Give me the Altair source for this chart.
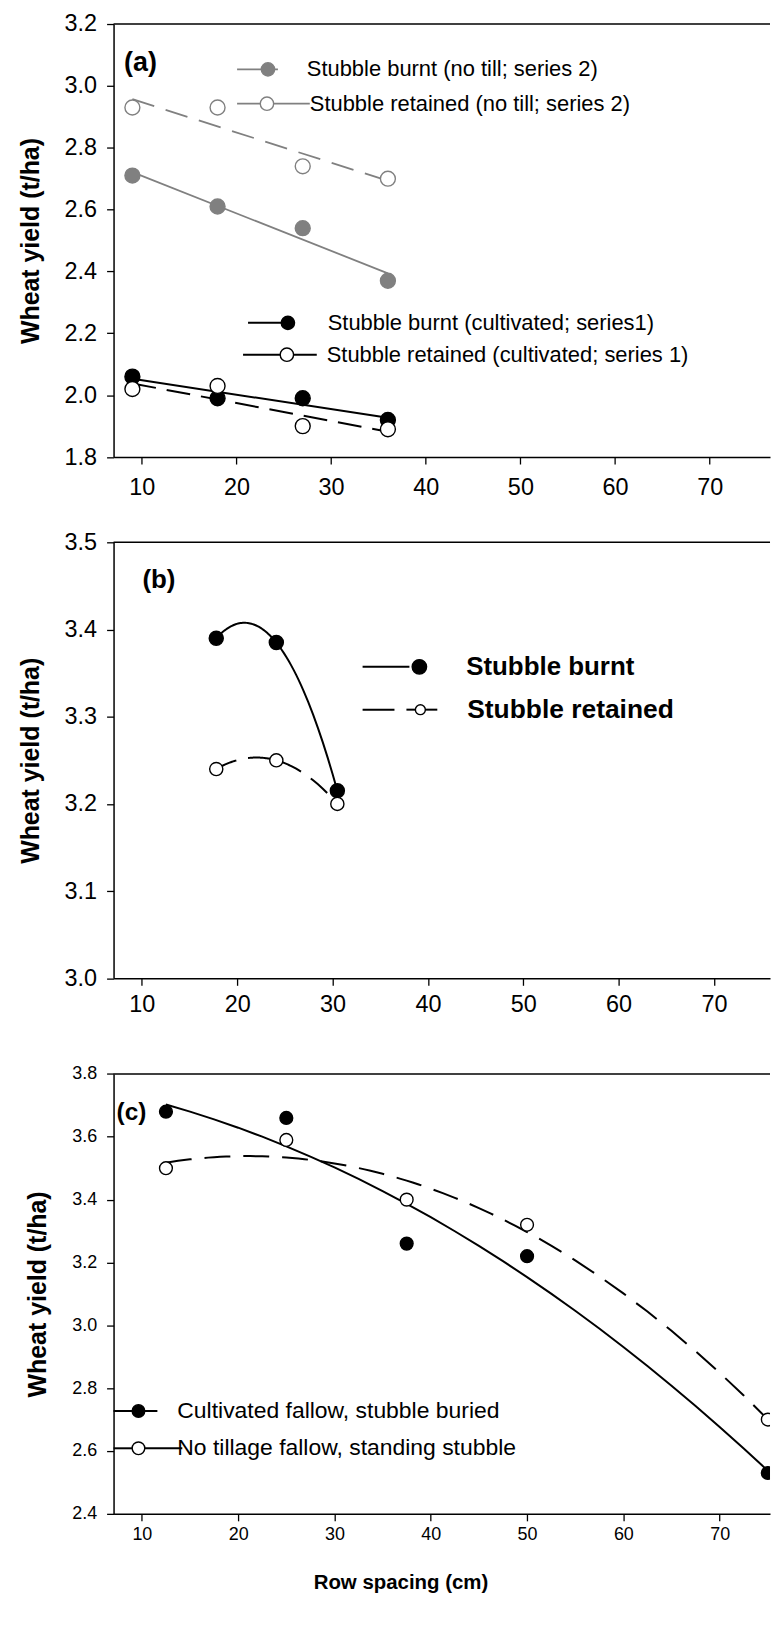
import altair as alt
import pandas as pd

FONT = "Liberation Sans"

# ---------------- data ----------------
x_ticks = [10, 20, 30, 40, 50, 60, 70]
y_title = "Wheat yield (t/ha)"
x_title = "Row spacing (cm)"
panel_tags = ["(a)", "(b)", "(c)"]

# panel (a)
a_spacing = [9, 18, 27, 36]
a_burnt_notill = [2.71, 2.61, 2.54, 2.37]
a_retained_notill = [2.93, 2.93, 2.74, 2.70]
a_burnt_cult = [2.06, 1.99, 1.99, 1.92]
a_retained_cult = [2.02, 2.03, 1.90, 1.89]
a_names = ["Stubble burnt (no till; series 2)",
           "Stubble retained (no till; series 2)",
           "Stubble burnt (cultivated; series1)",
           "Stubble retained (cultivated; series 1)"]
a_yticks = [1.8, 2.0, 2.2, 2.4, 2.6, 2.8, 3.0, 3.2]

# panel (b)
b_spacing = [17.8, 24.1, 30.5]
b_burnt = [3.39, 3.385, 3.215]
b_retained = [3.24, 3.25, 3.20]
b_names = ["Stubble burnt", "Stubble retained"]
b_yticks = [3.0, 3.1, 3.2, 3.3, 3.4, 3.5]

# panel (c)
c_spacing = [12.5, 25, 37.5, 50, 75]
c_cultivated = [3.68, 3.66, 3.26, 3.22, 2.53]
c_notill = [3.50, 3.59, 3.40, 3.32, 2.70]
c_names = ["Cultivated fallow, stubble buried",
           "No tillage fallow, standing stubble"]
c_yticks = [2.4, 2.6, 2.8, 3.0, 3.2, 3.4, 3.6, 3.8]

# ---------------- styling ----------------
W = 659
GRAY = "#808080"
BLACK = "#000000"
ONE = pd.DataFrame({"k": [0]})


def yaxis(values, title_center, title_x, label_size):
    return alt.Axis(values=values, format=".1f", title=y_title, grid=False,
                    tickSize=7, tickWidth=1.3, tickColor="black",
                    domainColor="black", domainWidth=1.5,
                    labelPadding=10, labelFontSize=label_size, labelFont=FONT,
                    labelColor="black",
                    titleFont=FONT, titleFontSize=25, titleFontWeight="bold",
                    titleColor="black", titleAngle=270, titleX=title_x,
                    titleY=title_center, titleBaseline="middle",
                    titleAlign="center")


def xaxis(label_pad, label_size, **kw):
    return alt.Axis(values=x_ticks, format="d", grid=False,
                    tickSize=7, tickWidth=1.3, tickColor="black",
                    domainColor="black", domainWidth=1.5,
                    labelPadding=label_pad, labelFontSize=label_size,
                    labelFont=FONT, labelColor="black", **kw)


def series(xs, ys, X, Y, color, filled, size, sw, dash, method, order=None,
           mstroke=1.4, clip=False):
    df = pd.DataFrame({"x": xs, "y": ys})
    base = alt.Chart(df)
    rk = {"method": method}
    if order:
        rk["order"] = order
    lk = {"color": color, "strokeWidth": sw}
    if dash:
        lk["strokeDash"] = dash
    line = base.transform_regression("x", "y", **rk).mark_line(**lk).encode(x=X, y=Y)
    pts = base.mark_point(shape="circle", filled=True, size=size,
                          fill=color if filled else "white", stroke=color,
                          strokeWidth=mstroke, opacity=1, clip=clip).encode(x=X, y=Y)
    return [line, pts]


def seg(x1, x2, y, color, sw):
    return alt.Chart(ONE).mark_rule(color=color, strokeWidth=sw).encode(
        x=alt.value(x1), x2=alt.value(x2), y=alt.value(y))


def dot(x, y, color, filled, size, mstroke=1.4):
    return alt.Chart(ONE).mark_point(shape="circle", filled=True, size=size,
                                     fill=color if filled else "white",
                                     stroke=color, strokeWidth=mstroke,
                                     opacity=1).encode(x=alt.value(x), y=alt.value(y))


def label(txt, x, y, size, bold=False):
    return alt.Chart(pd.DataFrame({"t": [txt]})).mark_text(
        align="left", baseline="middle", fontSize=size, font=FONT,
        fontWeight="bold" if bold else "normal", color="black").encode(
        x=alt.value(x), y=alt.value(y), text="t:N")


# ---------------- panel (a) ----------------
Ha = 434.7
Xa = alt.X("x:Q", scale=alt.Scale(domain=[7.01, 7.01 + W / 9.5], nice=False, zero=False),
           axis=xaxis(12, 23.5, title=None))
Ya = alt.Y("y:Q", scale=alt.Scale(domain=[1.8, 3.2], nice=False, zero=False),
           axis=yaxis(a_yticks, Ha / 2, -83, 23.5))
la = [seg(0, W, 0, "black", 1.5)]
la += series(a_spacing, a_burnt_notill, Xa, Ya, GRAY, True, 225, 1.8, None, "linear")
la += series(a_spacing, a_retained_notill, Xa, Ya, GRAY, False, 225, 1.8, [23, 12], "linear")
la += series(a_spacing, a_burnt_cult, Xa, Ya, BLACK, True, 225, 2.0, None, "linear")
la += series(a_spacing, a_retained_cult, Xa, Ya, BLACK, False, 225, 2.0, [24, 11], "linear")
la += [seg(124, 165, 45.5, GRAY, 1.8), dot(155, 45.5, GRAY, True, 180), label(a_names[0], 194, 45.5, 22),
       seg(124, 197, 80, GRAY, 1.8), dot(154, 80, GRAY, False, 180), label(a_names[1], 197, 80, 22),
       seg(135, 172, 300, BLACK, 2), dot(175, 300, BLACK, True, 180), label(a_names[2], 215, 300, 22),
       seg(130, 204, 332, BLACK, 2), dot(174, 332, BLACK, False, 180), label(a_names[3], 214, 332, 22),
       label(panel_tags[0], 10.6, 39, 27, True)]
pa = alt.layer(*la).properties(width=W, height=Ha)

# ---------------- panel (b) ----------------
Hb = 437.7
Xb = alt.X("x:Q", scale=alt.Scale(domain=[7.03, 7.03 + W / 9.572], nice=False, zero=False),
           axis=xaxis(7, 23.5, title=None))
Yb = alt.Y("y:Q", scale=alt.Scale(domain=[3.0, 3.5], nice=False, zero=False),
           axis=yaxis(b_yticks, Hb / 2, -83, 23.5))
lb = [seg(0, W, 0, "black", 1.5)]
lb += series(b_spacing, b_burnt, Xb, Yb, BLACK, True, 200, 2.0, None, "poly", 2)
lb += series(b_spacing, b_retained, Xb, Yb, BLACK, False, 175, 2.0, [22, 12], "poly", 2)
lb += [seg(250, 297, 125, BLACK, 2), dot(307, 125, BLACK, True, 210), label(b_names[0], 354, 125, 26, True),
       seg(250, 282, 168, BLACK, 2), seg(294, 325, 168, BLACK, 2), dot(308, 168, BLACK, False, 100),
       label(b_names[1], 355, 168, 26.5, True),
       label(panel_tags[1], 29, 37.4, 26, True)]
pb = alt.layer(*lb).properties(width=W, height=Hb)

# ---------------- panel (c) ----------------
TOPC = 10.4
Hc_plot = 441.6
Hc = Hc_plot + TOPC
Xc = alt.X("x:Q", scale=alt.Scale(domain=[7.06, 7.06 + W / 9.667], nice=False, zero=False),
           axis=xaxis(5, 18, title=x_title, titleFont=FONT, titleFontSize=20.5,
                      titleFontWeight="bold", titleColor="black", titleX=288,
                      titleY=69, titleBaseline="middle", titleAlign="center"))
Yc = alt.Y("y:Q", scale=alt.Scale(domain=[2.4, 3.8], nice=False, zero=False, range=[Hc, TOPC]),
           axis=yaxis(c_yticks, TOPC + Hc_plot / 2, -76.3, 18))
lc = [seg(0, W, TOPC, "black", 1.5)]
lc += series(c_spacing, c_cultivated, Xc, Yc, BLACK, True, 165, 2.0, None, "poly", 2, clip=True)
lc += series(c_spacing, c_notill, Xc, Yc, BLACK, False, 165, 2.0, [26, 13], "poly", 2, clip=True)
lc += [seg(0, 44, 348.7, BLACK, 2), dot(25, 348.7, BLACK, True, 160), label(c_names[0], 64, 348.7, 23),
       seg(0, 19, 386.2, BLACK, 2), seg(31, 69, 386.2, BLACK, 2), dot(25, 386.2, BLACK, False, 160),
       label(c_names[1], 64, 386.2, 23),
       label(panel_tags[2], 3, 49.4, 24.5, True)]
pc = alt.layer(*lc).properties(width=W, height=Hc)

chart = alt.vconcat(pa, pb, pc, spacing=85.3, bounds="flush").properties(
    padding={"left": 18, "top": 8, "right": 0, "bottom": 10},
    background="white",
).configure_view(stroke="transparent")

chart.save("out.html", embed_options={"renderer": "svg", "actions": False})
